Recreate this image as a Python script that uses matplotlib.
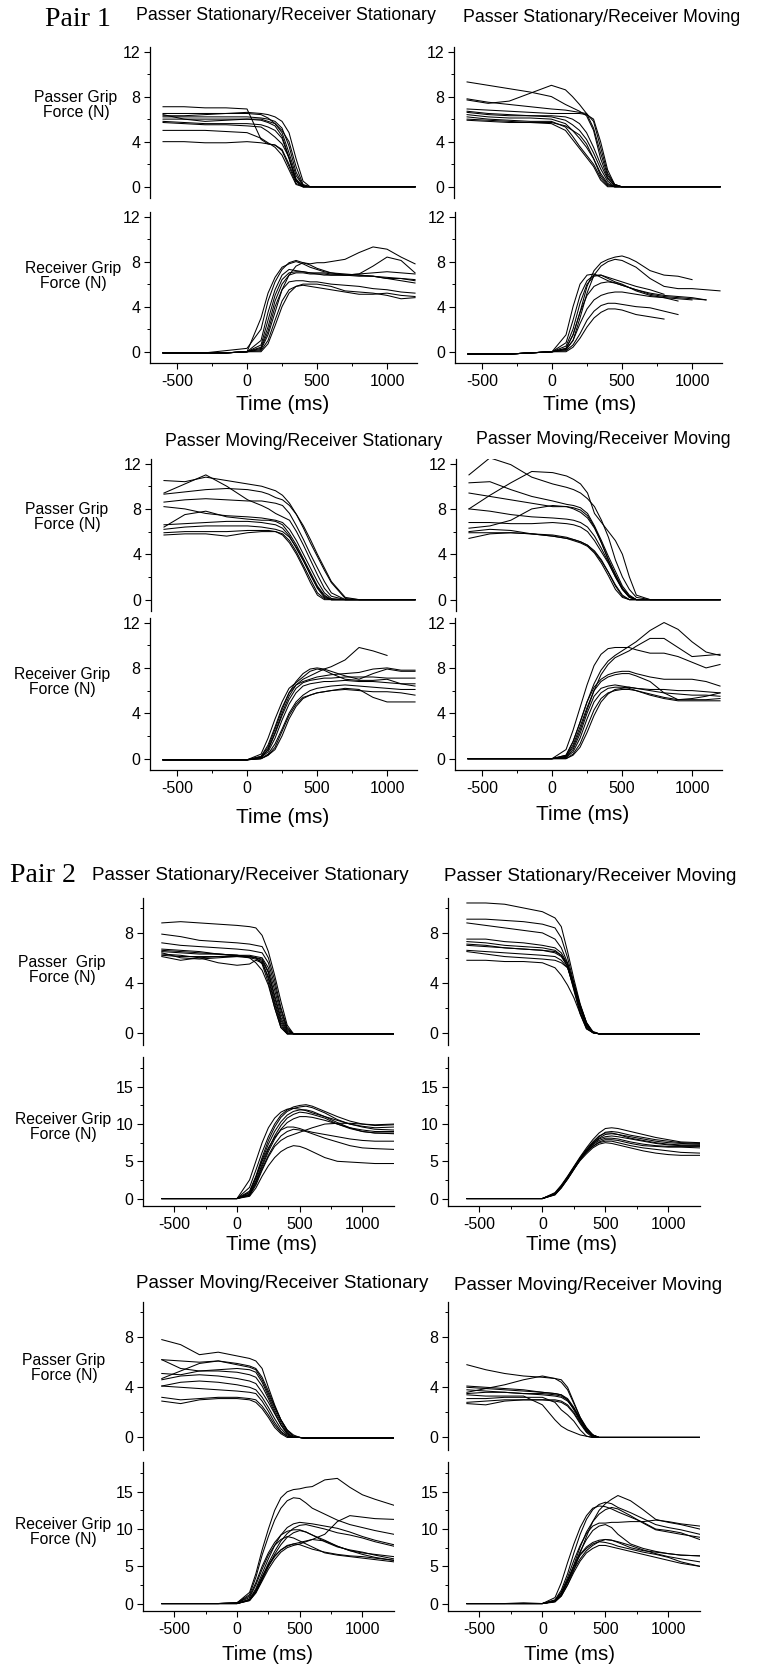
import numpy as np
import matplotlib
matplotlib.use("Agg")
import matplotlib.pyplot as plt

plt.rcParams['font.family'] = ['Liberation Sans', 'DejaVu Sans']
plt.rcParams['axes.unicode_minus'] = False

nan = np.nan

# sample times (ms) of the grip force traces
time_pair1 = [-600, -450, -300, -150, 0, 100, 150, 200, 250, 300, 350, 400, 450, 500,
              550, 600, 700, 800, 900, 1000, 1100, 1200]
time_pair2 = [-600, -450, -300, -150, 0, 100, 150, 200, 250, 300, 350, 400, 450, 500,
              550, 600, 700, 800, 900, 1000, 1100, 1250]

x_ticks = [-500, 0, 500, 1000]
x_tick_labels = ['-500', '0', '500', '1000']
y_ticks_pair1 = [0, 4, 8, 12]
y_ticks_pair2_passer = [0, 4, 8]
y_ticks_pair2_receiver = [0, 5, 10, 15]

conditions = ['Passer Stationary/Receiver Stationary', 'Passer Stationary/Receiver Moving',
              'Passer Moving/Receiver Stationary', 'Passer Moving/Receiver Moving']

# ---------------- Pair 1 ----------------
p1_ss_passer = [
    [7.1, 7.1, 7.0, 7.0, 6.9, 4.2, 3.8, 3.7, 3.3, 2.0, 0.5, 0.0, 0, 0, 0, 0, 0, 0, 0, 0, 0, 0],
    [6.5, 6.5, 6.5, 6.5, 6.5, 6.4, 6.1, 5.6, 4.8, 3.0, 1.0, 0.1, 0, 0, 0, 0, 0, 0, 0, 0, 0, 0],
    [6.4, 6.0, 5.8, 5.9, 6.0, 5.9, 5.7, 5.4, 4.5, 2.6, 0.6, 0.0, 0, 0, 0, 0, 0, 0, 0, 0, 0, 0],
    [6.2, 6.2, 6.2, 6.2, 6.2, 6.1, 6.0, 5.8, 5.2, 3.6, 1.3, 0.1, 0, 0, 0, 0, 0, 0, 0, 0, 0, 0],
    [5.8, 5.7, 5.6, 5.6, 5.6, 5.5, 5.3, 5.0, 4.3, 2.5, 0.5, 0.0, 0, 0, 0, 0, 0, 0, 0, 0, 0, 0],
    [5.7, 5.6, 5.5, 5.5, 5.4, 5.3, 4.9, 4.4, 3.8, 2.6, 0.7, 0.0, 0, 0, 0, 0, 0, 0, 0, 0, 0, 0],
    [5.0, 5.0, 5.0, 4.9, 4.8, 4.3, 3.9, 3.5, 2.8, 1.5, 0.2, 0.0, 0, 0, 0, 0, 0, 0, 0, 0, 0, 0],
    [4.0, 4.0, 3.9, 3.9, 4.0, 3.9, 3.8, 3.7, 3.2, 1.8, 0.3, 0.0, 0, 0, 0, 0, 0, 0, 0, 0, 0, 0],
    [6.3, 6.3, 6.4, 6.5, 6.6, 6.5, 6.4, 6.2, 5.8, 4.8, 2.5, 0.5, 0, 0, 0, 0, 0, 0, 0, 0, 0, 0],
    [6.0, 6.0, 6.0, 6.0, 6.0, 6.0, 5.8, 5.6, 5.0, 4.0, 1.8, 0.2, 0, 0, 0, 0, 0, 0, 0, 0, 0, 0],
]
p1_ss_receiver = [
    [-0.1, -0.1, -0.1, -0.1, 0.0, 3.0, 5.2, 6.6, 7.5, 7.8, 8.0, 7.8, 7.5, 7.3, 7.1, 7.0, 6.8, 6.8, 6.7, 6.5, 6.3, 6.1],
    [-0.1, -0.1, -0.1, 0.1, 0.3, 2.0, 4.5, 6.2, 7.3, 7.9, 8.1, 7.9, 7.8, 7.9, 7.9, 8.0, 8.2, 8.8, 9.3, 9.1, 8.4, 7.8],
    [-0.1, -0.1, -0.1, -0.1, 0.0, 1.0, 3.5, 5.5, 6.8, 7.3, 7.2, 7.1, 7.0, 7.0, 7.0, 6.9, 6.8, 6.9, 7.6, 8.4, 8.1, 7.0],
    [-0.1, -0.1, -0.1, -0.1, 0.0, 0.6, 2.8, 5.0, 6.4, 7.0, 7.1, 7.1, 7.0, 6.9, 6.8, 6.8, 6.8, 6.7, 6.7, 6.6, 6.5, 6.3],
    [-0.1, -0.1, -0.1, -0.1, 0.0, 0.4, 2.2, 4.5, 6.0, 6.8, 7.0, 7.0, 6.9, 6.9, 6.9, 6.8, 6.8, 6.9, 7.0, 7.1, 7.0, 6.9],
    [-0.1, -0.1, -0.1, -0.1, 0.0, 0.3, 1.8, 4.0, 5.5, 6.2, 6.3, 6.3, 6.2, 6.2, 6.1, 6.0, 5.9, 5.8, 5.6, 5.5, 5.3, 5.2],
    [-0.1, -0.1, -0.1, -0.1, 0.0, 0.1, 1.0, 2.8, 4.5, 5.5, 5.8, 5.9, 5.8, 5.7, 5.6, 5.5, 5.3, 5.1, 5.1, 5.2, 5.0, 4.9],
    [-0.1, -0.1, -0.1, -0.1, 0.0, 0.0, 0.7, 2.3, 4.0, 5.2, 5.8, 6.0, 6.0, 6.0, 5.9, 5.8, 5.4, 5.3, 5.2, 5.0, 4.7, 4.8],
    [-0.1, -0.1, -0.1, -0.1, 0.0, 0.2, 1.5, 3.5, 5.5, 6.8, 7.6, 7.9, 7.7, 7.4, 7.2, 7.0, 6.9, 6.8, 6.7, 6.5, 6.5, 6.4],
]
p1_sm_passer = [
    [9.3, 9.0, 8.7, 8.4, 8.0, 7.3, 7.0, 6.7, 6.3, 5.0, 2.5, 0.8, 0.1, 0, 0, 0, 0, 0, 0, 0, 0, 0],
    [7.7, 7.4, 7.6, 8.3, 9.0, 8.6, 8.0, 7.3, 6.5, 5.2, 3.0, 1.0, 0.2, 0, 0, 0, 0, 0, 0, 0, 0, 0],
    [7.8, 7.5, 7.3, 7.1, 6.9, 6.8, 6.7, 6.6, 6.5, 5.8, 3.5, 1.2, 0.2, 0, 0, 0, 0, 0, 0, 0, 0, 0],
    [6.9, 6.8, 6.7, 6.6, 6.5, 6.5, 6.5, 6.5, 6.4, 6.0, 4.0, 1.5, 0.2, 0, 0, 0, 0, 0, 0, 0, 0, 0],
    [6.7, 6.5, 6.4, 6.3, 6.3, 6.2, 6.0, 5.6, 4.8, 3.5, 2.0, 0.7, 0.1, 0, 0, 0, 0, 0, 0, 0, 0, 0],
    [6.6, 6.4, 6.3, 6.3, 6.2, 5.9, 5.5, 5.0, 4.2, 3.0, 1.6, 0.5, 0.0, 0, 0, 0, 0, 0, 0, 0, 0, 0],
    [6.4, 6.2, 6.1, 6.1, 6.0, 5.6, 5.0, 4.3, 3.5, 2.5, 1.2, 0.3, 0.0, 0, 0, 0, 0, 0, 0, 0, 0, 0],
    [6.2, 6.0, 5.9, 5.8, 5.8, 5.3, 4.5, 3.6, 2.8, 2.0, 0.8, 0.1, 0.0, 0, 0, 0, 0, 0, 0, 0, 0, 0],
    [6.0, 5.9, 5.8, 5.7, 5.6, 5.0, 4.2, 3.4, 2.6, 1.8, 0.6, 0.0, 0.0, 0, 0, 0, 0, 0, 0, 0, 0, 0],
    [5.9, 5.8, 5.7, 5.7, 5.7, 5.4, 5.0, 4.6, 3.8, 2.5, 1.0, 0.2, 0.0, 0, 0, 0, 0, 0, 0, 0, 0, 0],
]
p1_sm_receiver = [
    [-0.2, -0.2, -0.2, -0.1, 0.0, 1.5, 4.0, 6.0, 6.8, 6.9, 6.6, 6.3, 6.1, 5.9, 5.7, 5.5, 5.2, 5.0, 4.9, 4.8, 4.6, nan],
    [-0.2, -0.2, -0.2, -0.1, 0.0, 0.3, 1.5, 3.5, 5.8, 7.2, 7.9, 8.2, 8.4, 8.5, 8.3, 8.0, 7.2, 6.8, 6.7, 6.4, nan, nan],
    [-0.2, -0.2, -0.2, -0.1, 0.0, 0.2, 1.0, 3.0, 5.2, 6.8, 7.6, 8.0, 8.2, 8.1, 7.8, 7.5, 6.5, 5.8, 5.6, 5.6, 5.5, 5.4],
    [-0.2, -0.2, -0.2, -0.1, 0.0, 0.8, 2.8, 5.0, 6.3, 6.8, 6.8, 6.5, 6.2, 6.0, 5.7, 5.4, 5.0, 4.8, 4.5, nan, nan, nan],
    [-0.2, -0.2, -0.2, -0.1, 0.0, 0.3, 1.5, 3.5, 5.0, 5.8, 6.1, 6.2, 6.1, 5.9, 5.7, 5.5, 5.1, 4.9, 4.8, 4.7, 4.6, nan],
    [-0.2, -0.2, -0.2, -0.1, 0.0, 0.2, 1.0, 2.5, 3.8, 4.6, 5.0, 5.2, 5.3, 5.3, 5.2, 5.1, 4.9, 4.8, 4.7, 4.6, nan, nan],
    [-0.2, -0.2, -0.2, -0.1, 0.0, 0.1, 0.6, 1.6, 2.8, 3.6, 4.1, 4.3, 4.3, 4.2, 4.1, 4.0, 3.9, 3.6, 3.3, nan, nan, nan],
    [-0.2, -0.2, -0.2, -0.1, 0.0, 0.0, 0.4, 1.2, 2.2, 3.0, 3.5, 3.8, 3.8, 3.7, 3.5, 3.3, 3.1, 2.9, nan, nan, nan, nan],
    [-0.2, -0.2, -0.2, -0.1, 0.0, 0.5, 2.0, 4.3, 6.0, 6.7, 6.8, 6.6, 6.4, 6.2, 6.0, 5.8, 5.5, 5.1, nan, nan, nan, nan],
]
p1_ms_passer = [
    [10.5, 10.4, 10.8, 10.5, 10.2, 10.0, 9.8, 9.6, 9.2, 8.5, 7.5, 6.3, 5.0, 3.8, 2.6, 1.5, 0.1, 0, 0, 0, 0, 0],
    [9.4, 10.2, 11.0, 10.0, 8.8, 8.3, 8.0, 7.6, 7.3, 7.0, 6.0, 4.8, 3.5, 2.2, 1.0, 0.3, 0, 0, 0, 0, 0, 0],
    [9.3, 9.5, 9.7, 9.8, 9.7, 9.5, 9.3, 9.0, 8.8, 8.3, 7.5, 6.5, 5.3, 4.0, 2.8, 1.6, 0.2, 0, 0, 0, 0, 0],
    [8.6, 8.8, 8.9, 8.8, 8.7, 8.7, 8.6, 8.5, 8.3, 7.6, 6.5, 5.3, 4.0, 2.8, 1.6, 0.6, 0, 0, 0, 0, 0, 0],
    [8.2, 8.0, 7.6, 7.4, 7.3, 7.2, 7.1, 7.0, 6.8, 6.2, 5.2, 4.0, 2.8, 1.6, 0.6, 0.1, 0, 0, 0, 0, 0, 0],
    [6.4, 7.5, 7.8, 7.3, 7.1, 7.0, 7.0, 6.9, 6.6, 5.8, 4.8, 3.6, 2.4, 1.2, 0.4, 0, 0, 0, 0, 0, 0, 0],
    [6.6, 6.7, 6.8, 6.9, 6.9, 6.8, 6.7, 6.6, 6.3, 5.6, 4.5, 3.4, 2.2, 1.1, 0.3, 0, 0, 0, 0, 0, 0, 0],
    [6.2, 6.4, 6.5, 6.5, 6.5, 6.4, 6.3, 6.2, 6.0, 5.5, 4.6, 3.5, 2.2, 1.0, 0.2, 0, 0, 0, 0, 0, 0, 0],
    [5.9, 6.0, 6.0, 6.0, 6.1, 6.1, 6.1, 6.0, 5.8, 5.2, 4.2, 3.0, 1.8, 0.6, 0.1, 0, 0, 0, 0, 0, 0, 0],
    [5.7, 5.8, 5.8, 5.6, 5.9, 6.0, 6.0, 6.0, 5.7, 5.0, 4.0, 2.8, 1.5, 0.4, 0, 0, 0, 0, 0, 0, 0, 0],
]
p1_ms_receiver = [
    [-0.1, -0.1, -0.1, -0.1, -0.1, 0.1, 0.8, 2.3, 4.0, 5.5, 6.5, 7.0, 7.3, 7.6, 7.9, 8.1, 8.7, 9.8, 9.5, 9.1, nan, nan],
    [-0.1, -0.1, -0.1, -0.1, -0.1, 0.4, 1.8, 3.5, 5.0, 6.2, 6.7, 7.2, 7.7, 7.9, 7.8, 7.5, 7.0, 6.9, 6.9, 7.0, 6.6, 6.6],
    [-0.1, -0.1, -0.1, -0.1, -0.1, 0.2, 1.2, 2.8, 4.5, 5.8, 6.5, 6.8, 7.0, 7.2, 7.3, 7.4, 7.5, 7.6, 7.9, 8.0, 7.8, 7.8],
    [-0.1, -0.1, -0.1, -0.1, -0.1, 0.1, 0.8, 2.2, 3.8, 5.2, 6.2, 6.7, 6.9, 7.0, 7.1, 7.1, 7.2, 7.2, 7.2, 7.1, 7.1, 7.1],
    [-0.1, -0.1, -0.1, -0.1, -0.1, 0.1, 0.6, 1.8, 3.4, 4.8, 5.8, 6.4, 6.6, 6.7, 6.8, 6.8, 6.9, 6.8, 6.8, 6.7, 6.6, 6.4],
    [-0.1, -0.1, -0.1, -0.1, -0.1, 0.0, 0.4, 1.3, 2.6, 4.0, 5.0, 5.6, 6.0, 6.2, 6.3, 6.4, 6.5, 6.4, 6.3, 6.2, 6.1, 6.1],
    [-0.1, -0.1, -0.1, -0.1, -0.1, 0.0, 0.3, 0.8, 2.0, 3.5, 4.6, 5.3, 5.6, 5.8, 5.9, 6.0, 6.2, 6.1, 5.4, 5.0, 5.0, 5.0],
    [-0.1, -0.1, -0.1, -0.1, -0.1, 0.0, 0.3, 1.0, 2.4, 3.8, 4.8, 5.4, 5.6, 5.8, 5.9, 6.0, 6.1, 6.0, 5.9, 5.9, 5.8, 5.6],
    [-0.1, -0.1, -0.1, -0.1, -0.1, 0.2, 1.0, 2.6, 4.3, 5.8, 6.8, 7.5, 7.9, 8.0, 7.9, 7.7, 7.3, 7.0, 7.5, 7.9, 7.7, 7.7],
]
p1_mm_passer = [
    [11.0, 12.5, 11.9, 10.8, 10.2, 9.9, 9.7, 9.4, 8.9, 8.2, 7.0, 5.5, 3.5, 2.0, 0.9, 0.2, 0, 0, 0, 0, 0, 0],
    [8.0, 9.2, 10.3, 11.3, 11.2, 10.9, 10.6, 10.2, 9.4, 7.6, 6.8, 6.0, 5.2, 4.0, 2.0, 0.4, 0, 0, 0, 0, 0, 0],
    [10.3, 10.4, 9.7, 9.1, 8.7, 8.4, 8.3, 8.1, 7.6, 6.5, 5.2, 3.8, 2.5, 1.2, 0.4, 0, 0, 0, 0, 0, 0, 0],
    [9.4, 9.1, 8.8, 8.5, 8.2, 8.2, 8.1, 7.9, 7.4, 6.4, 5.0, 3.5, 2.2, 1.0, 0.3, 0, 0, 0, 0, 0, 0, 0],
    [8.0, 7.8, 7.5, 7.3, 7.2, 7.1, 7.0, 6.8, 6.4, 5.6, 4.5, 3.3, 2.0, 0.9, 0.2, 0, 0, 0, 0, 0, 0, 0],
    [6.3, 6.5, 7.0, 8.0, 8.3, 8.2, 8.0, 7.7, 7.2, 6.3, 5.0, 3.5, 2.2, 1.0, 0.3, 0, 0, 0, 0, 0, 0, 0],
    [6.8, 6.8, 6.7, 6.7, 6.8, 6.7, 6.6, 6.4, 6.0, 5.2, 4.2, 3.2, 2.0, 0.9, 0.2, 0, 0, 0, 0, 0, 0, 0],
    [6.0, 6.2, 6.1, 5.8, 5.6, 5.4, 5.3, 5.1, 4.8, 4.2, 3.4, 2.4, 1.3, 0.4, 0, 0, 0, 0, 0, 0, 0, 0],
    [5.9, 5.9, 5.9, 5.8, 5.7, 5.5, 5.3, 5.1, 4.8, 4.3, 3.5, 2.4, 1.2, 0.3, 0, 0, 0, 0, 0, 0, 0, 0],
    [5.4, 5.8, 5.9, 5.8, 5.6, 5.4, 5.2, 5.0, 4.7, 4.1, 3.2, 2.1, 0.9, 0.2, 0, 0, 0, 0, 0, 0, 0, 0],
]
p1_mm_receiver = [
    [0, 0, 0, 0, 0, 0.3, 1.5, 3.2, 5.0, 6.6, 7.8, 8.6, 9.1, 9.5, 9.9, 10.3, 11.3, 12.0, 11.4, 10.3, 9.4, 9.1],
    [0, 0, 0, 0, 0, 0.2, 1.0, 2.5, 4.3, 6.0, 7.4, 8.3, 8.9, 9.2, 9.5, 9.9, 10.6, 10.6, 9.8, 9.0, 9.1, 9.2],
    [0, 0, 0, 0, 0, 0.8, 2.5, 4.5, 6.5, 8.2, 9.2, 9.7, 9.8, 9.8, 9.8, 9.6, 9.3, 9.3, 9.0, 8.5, 8.0, 8.3],
    [0, 0, 0, 0, 0, 0.3, 1.5, 3.2, 5.0, 6.3, 7.0, 7.4, 7.6, 7.7, 7.7, 7.5, 7.2, 7.0, 7.0, 7.0, 6.8, 6.4],
    [0, 0, 0, 0, 0, 0.2, 1.2, 2.8, 4.5, 6.0, 6.8, 7.2, 7.4, 7.5, 7.5, 7.3, 6.8, 5.8, 5.2, 5.3, 5.5, 5.8],
    [0, 0, 0, 0, 0, 0.1, 0.8, 2.2, 4.0, 5.5, 6.2, 6.4, 6.5, 6.4, 6.3, 6.2, 6.1, 6.1, 6.0, 6.0, 5.9, 5.8],
    [0, 0, 0, 0, 0, 0.1, 0.6, 1.8, 3.5, 5.0, 5.8, 6.2, 6.3, 6.3, 6.2, 6.0, 5.7, 5.4, 5.2, 5.2, 5.2, 5.3],
    [0, 0, 0, 0, 0, 0.0, 0.4, 1.3, 2.8, 4.3, 5.3, 5.8, 6.0, 6.1, 6.1, 6.0, 5.6, 5.3, 5.1, 5.1, 5.1, 5.1],
    [0, 0, 0, 0, 0, 0.0, 0.3, 1.0, 2.3, 3.8, 5.0, 5.7, 6.1, 6.2, 6.3, 6.2, 6.0, 5.8, 5.7, 5.6, 5.6, 5.5],
]

# ---------------- Pair 2 ----------------
p2_ss_passer = [
    [8.8, 8.9, 8.8, 8.7, 8.6, 8.5, 8.4, 7.8, 6.5, 4.6, 2.5, 0.6, -0.1, -0.1, -0.1, -0.1, -0.1, -0.1, -0.1, -0.1, -0.1, -0.1],
    [7.9, 7.7, 7.4, 7.3, 7.2, 7.1, 7.0, 6.9, 6.0, 4.2, 2.0, 0.4, -0.1, -0.1, -0.1, -0.1, -0.1, -0.1, -0.1, -0.1, -0.1, -0.1],
    [7.2, 7.0, 6.9, 6.8, 6.7, 6.6, 6.5, 6.4, 5.6, 3.8, 1.8, 0.3, -0.1, -0.1, -0.1, -0.1, -0.1, -0.1, -0.1, -0.1, -0.1, -0.1],
    [6.7, 6.6, 6.5, 6.3, 6.2, 6.1, 6.0, 5.9, 4.9, 3.0, 1.2, 0.1, -0.1, -0.1, -0.1, -0.1, -0.1, -0.1, -0.1, -0.1, -0.1, -0.1],
    [6.6, 6.5, 6.4, 6.3, 6.2, 6.2, 6.1, 6.0, 5.2, 3.4, 1.5, 0.2, -0.1, -0.1, -0.1, -0.1, -0.1, -0.1, -0.1, -0.1, -0.1, -0.1],
    [6.4, 6.0, 5.9, 6.0, 6.1, 6.1, 6.0, 5.8, 4.8, 2.8, 1.0, 0.0, -0.1, -0.1, -0.1, -0.1, -0.1, -0.1, -0.1, -0.1, -0.1, -0.1],
    [6.3, 6.2, 6.0, 5.6, 5.4, 5.5, 5.8, 5.6, 4.5, 2.5, 0.8, -0.1, -0.1, -0.1, -0.1, -0.1, -0.1, -0.1, -0.1, -0.1, -0.1, -0.1],
    [6.2, 6.1, 6.1, 6.1, 6.1, 6.0, 5.9, 5.7, 4.3, 2.3, 0.6, -0.1, -0.1, -0.1, -0.1, -0.1, -0.1, -0.1, -0.1, -0.1, -0.1, -0.1],
    [6.1, 5.8, 6.0, 6.1, 6.2, 6.1, 6.0, 5.5, 4.0, 2.0, 0.4, -0.1, -0.1, -0.1, -0.1, -0.1, -0.1, -0.1, -0.1, -0.1, -0.1, -0.1],
    [6.5, 6.4, 6.3, 6.3, 6.2, 6.0, 5.6, 5.0, 3.8, 2.0, 0.4, -0.1, -0.1, -0.1, -0.1, -0.1, -0.1, -0.1, -0.1, -0.1, -0.1, -0.1],
]
p2_ss_receiver = [
    [0, 0, 0, 0, 0, 2.5, 5.0, 7.5, 9.5, 10.8, 11.6, 12.0, 12.1, 12.0, 11.8, 11.5, 11.0, 10.5, 10.0, 9.7, 9.5, 9.6],
    [0, 0, 0, 0, 0, 1.5, 3.8, 6.2, 8.3, 10.0, 11.2, 11.9, 12.3, 12.5, 12.6, 12.4, 11.7, 11.0, 10.4, 10.0, 9.8, 9.9],
    [0, 0, 0, 0, 0, 1.0, 3.0, 5.5, 7.8, 9.6, 10.9, 11.7, 12.1, 12.3, 12.4, 12.2, 11.5, 10.6, 10.0, 9.6, 9.3, 9.2],
    [0, 0, 0, 0, 0, 0.8, 2.8, 5.2, 7.3, 9.0, 10.3, 11.2, 11.7, 11.9, 11.9, 11.7, 11.0, 10.2, 9.5, 9.0, 8.8, 8.7],
    [0, 0, 0, 0, 0, 0.6, 2.4, 4.6, 6.6, 8.4, 9.8, 10.8, 11.3, 11.6, 11.5, 11.3, 10.8, 10.0, 9.4, 9.0, 8.8, 8.8],
    [0, 0, 0, 0, 0, 0.5, 2.2, 4.3, 6.3, 8.0, 9.3, 10.2, 10.7, 11.0, 11.0, 10.9, 10.5, 10.0, 9.5, 9.2, 9.0, 9.0],
    [0, 0, 0, 0, 0, 0.8, 2.8, 5.0, 6.8, 8.2, 9.2, 9.6, 9.6, 9.4, 9.1, 8.9, 8.6, 8.3, 8.0, 7.8, 7.7, 7.7],
    [0, 0, 0, 0, 0, 0.4, 1.8, 3.8, 5.6, 7.0, 7.8, 8.3, 8.6, 8.9, 9.2, 9.5, 10.0, 10.1, 10.1, 10.0, 9.9, 10.0],
    [0, 0, 0, 0, 0, 0.5, 2.0, 4.0, 5.8, 7.3, 8.4, 9.0, 9.3, 9.2, 9.0, 8.7, 8.1, 7.6, 7.1, 6.8, 6.7, 6.6],
    [0, 0, 0, 0, 0, 0.3, 1.4, 3.0, 4.4, 5.5, 6.3, 6.8, 7.1, 7.0, 6.7, 6.3, 5.5, 5.0, 4.9, 4.8, 4.7, 4.7],
]
p2_sm_passer = [
    [10.4, 10.4, 10.3, 10.0, 9.7, 9.2, 8.5, 6.5, 4.3, 2.3, 0.8, 0.1, -0.1, -0.1, -0.1, -0.1, -0.1, -0.1, -0.1, -0.1, -0.1, -0.1],
    [9.1, 9.1, 9.0, 8.9, 8.7, 8.4, 7.6, 6.0, 4.0, 2.2, 0.8, 0.0, -0.1, -0.1, -0.1, -0.1, -0.1, -0.1, -0.1, -0.1, -0.1, -0.1],
    [8.8, 8.6, 8.4, 8.2, 8.0, 7.5, 6.8, 5.6, 3.8, 2.0, 0.6, 0.0, -0.1, -0.1, -0.1, -0.1, -0.1, -0.1, -0.1, -0.1, -0.1, -0.1],
    [7.5, 7.5, 7.3, 7.2, 7.0, 6.8, 6.4, 5.5, 3.8, 2.0, 0.6, 0.0, -0.1, -0.1, -0.1, -0.1, -0.1, -0.1, -0.1, -0.1, -0.1, -0.1],
    [7.3, 7.2, 7.0, 6.9, 6.8, 6.6, 6.2, 5.3, 3.5, 1.6, 0.4, 0.0, -0.1, -0.1, -0.1, -0.1, -0.1, -0.1, -0.1, -0.1, -0.1, -0.1],
    [7.1, 7.0, 6.8, 6.7, 6.6, 6.4, 6.1, 5.3, 3.4, 1.5, 0.3, 0.0, -0.1, -0.1, -0.1, -0.1, -0.1, -0.1, -0.1, -0.1, -0.1, -0.1],
    [7.0, 6.9, 6.8, 6.7, 6.6, 6.5, 6.2, 5.5, 3.9, 2.1, 0.7, 0.0, -0.1, -0.1, -0.1, -0.1, -0.1, -0.1, -0.1, -0.1, -0.1, -0.1],
    [6.6, 6.5, 6.4, 6.3, 6.2, 6.1, 5.8, 5.2, 3.6, 1.8, 0.5, 0.0, -0.1, -0.1, -0.1, -0.1, -0.1, -0.1, -0.1, -0.1, -0.1, -0.1],
    [6.5, 6.3, 6.1, 6.0, 5.9, 5.8, 5.6, 5.2, 3.8, 2.2, 0.8, 0.0, -0.1, -0.1, -0.1, -0.1, -0.1, -0.1, -0.1, -0.1, -0.1, -0.1],
    [5.8, 5.8, 5.7, 5.7, 5.6, 5.2, 4.6, 3.8, 2.8, 1.5, 0.3, 0.0, -0.1, -0.1, -0.1, -0.1, -0.1, -0.1, -0.1, -0.1, -0.1, -0.1],
]
p2_sm_receiver = [
    [0, 0, 0, 0, 0, 0.8, 1.8, 3.0, 4.3, 5.6, 6.8, 7.9, 8.8, 9.4, 9.5, 9.4, 9.0, 8.6, 8.2, 7.9, 7.6, 7.5],
    [0, 0, 0, 0, 0, 0.7, 1.6, 2.8, 4.1, 5.4, 6.5, 7.5, 8.3, 8.9, 9.0, 8.9, 8.5, 8.2, 7.9, 7.7, 7.5, 7.4],
    [0, 0, 0, 0, 0, 0.6, 1.5, 2.6, 3.9, 5.2, 6.4, 7.4, 8.1, 8.6, 8.7, 8.6, 8.3, 8.0, 7.7, 7.5, 7.4, 7.3],
    [0, 0, 0, 0, 0, 0.6, 1.5, 2.7, 4.0, 5.3, 6.4, 7.3, 8.0, 8.3, 8.4, 8.3, 8.0, 7.7, 7.4, 7.2, 7.1, 7.1],
    [0, 0, 0, 0, 0, 0.7, 1.7, 2.9, 4.2, 5.4, 6.4, 7.2, 7.8, 8.1, 8.1, 8.0, 7.6, 7.3, 7.1, 7.0, 7.0, 7.0],
    [0, 0, 0, 0, 0, 0.5, 1.4, 2.6, 3.9, 5.2, 6.2, 7.0, 7.6, 7.9, 7.9, 7.8, 7.4, 7.1, 7.0, 6.9, 6.9, 6.8],
    [0, 0, 0, 0, 0, 0.6, 1.6, 2.8, 4.1, 5.3, 6.3, 7.0, 7.5, 7.7, 7.7, 7.5, 7.1, 6.8, 6.6, 6.4, 6.2, 6.1],
    [0, 0, 0, 0, 0, 0.5, 1.5, 2.7, 4.0, 5.1, 6.0, 6.8, 7.3, 7.5, 7.4, 7.2, 6.8, 6.4, 6.1, 5.9, 5.8, 5.8],
    [0, 0, 0, 0, 0, 0.6, 1.6, 2.9, 4.2, 5.5, 6.6, 7.6, 8.4, 8.8, 8.8, 8.6, 8.1, 7.8, 7.5, 7.3, 7.2, 7.2],
]
p2_ms_passer = [
    [7.8, 7.4, 6.6, 6.8, 6.5, 6.3, 6.1, 5.5, 4.0, 2.6, 1.4, 0.6, 0.2, 0.0, -0.05, -0.05, -0.05, -0.05, -0.05, -0.05, -0.05, -0.05],
    [6.2, 6.1, 6.0, 6.1, 5.8, 5.6, 5.4, 4.6, 3.5, 2.4, 1.4, 0.6, 0.1, 0.0, -0.05, -0.05, -0.05, -0.05, -0.05, -0.05, -0.05, -0.05],
    [6.2, 5.5, 5.3, 5.4, 5.5, 5.4, 5.2, 4.4, 3.3, 2.2, 1.2, 0.4, 0.0, 0.0, -0.05, -0.05, -0.05, -0.05, -0.05, -0.05, -0.05, -0.05],
    [5.1, 5.0, 5.3, 5.3, 5.2, 5.0, 4.8, 4.1, 3.1, 2.0, 1.0, 0.3, 0.0, 0.0, -0.05, -0.05, -0.05, -0.05, -0.05, -0.05, -0.05, -0.05],
    [4.7, 5.3, 5.9, 6.1, 5.9, 5.7, 5.5, 4.8, 3.7, 2.5, 1.4, 0.5, 0.1, 0.0, -0.05, -0.05, -0.05, -0.05, -0.05, -0.05, -0.05, -0.05],
    [4.6, 4.9, 5.0, 4.9, 4.7, 4.5, 4.3, 3.6, 2.8, 1.9, 1.0, 0.3, 0.0, 0.0, -0.05, -0.05, -0.05, -0.05, -0.05, -0.05, -0.05, -0.05],
    [4.1, 4.4, 4.5, 4.4, 4.2, 4.0, 3.8, 3.2, 2.4, 1.5, 0.7, 0.2, 0.0, 0.0, -0.05, -0.05, -0.05, -0.05, -0.05, -0.05, -0.05, -0.05],
    [4.1, 4.0, 3.9, 3.8, 3.7, 3.6, 3.5, 2.9, 2.1, 1.2, 0.5, 0.1, 0.0, 0.0, -0.05, -0.05, -0.05, -0.05, -0.05, -0.05, -0.05, -0.05],
    [3.2, 3.0, 3.1, 3.2, 3.2, 3.1, 3.0, 2.5, 1.8, 1.0, 0.4, 0.1, 0.0, 0.0, -0.05, -0.05, -0.05, -0.05, -0.05, -0.05, -0.05, -0.05],
    [2.9, 2.7, 3.0, 3.1, 3.1, 3.0, 2.8, 2.3, 1.6, 0.8, 0.3, 0.0, 0.0, 0.0, -0.05, -0.05, -0.05, -0.05, -0.05, -0.05, -0.05, -0.05],
]
p2_ms_receiver = [
    [0, 0, 0, 0, 0.1, 1.5, 4.0, 7.2, 10.0, 12.5, 14.2, 15.0, 15.3, 15.4, 15.6, 15.7, 16.6, 16.8, 15.6, 14.6, 14.0, 13.2],
    [0, 0, 0, 0, 0.1, 1.2, 3.5, 6.5, 9.0, 11.2, 12.8, 13.8, 14.2, 14.1, 13.5, 12.8, 12.0, 11.2, 10.6, 10.2, 9.8, 9.3],
    [0, 0, 0, 0, 0, 0.5, 1.8, 3.6, 5.2, 6.4, 7.2, 7.7, 8.0, 8.2, 8.4, 8.6, 9.3, 11.0, 11.8, 11.6, 11.4, 11.3],
    [0, 0, 0, 0, 0, 0.6, 2.0, 4.0, 6.0, 7.8, 9.2, 10.2, 10.7, 10.9, 10.8, 10.7, 10.4, 10.1, 9.6, 9.0, 8.5, 7.9],
    [0, 0, 0, 0, 0, 0.5, 1.7, 3.5, 5.4, 7.0, 8.4, 9.4, 10.1, 10.5, 10.6, 10.4, 10.0, 9.5, 9.2, 8.8, 8.3, 7.7],
    [0, 0, 0, 0, 0.1, 1.0, 2.8, 5.0, 6.8, 8.2, 9.2, 9.7, 9.9, 9.9, 9.6, 9.2, 8.5, 7.7, 7.1, 6.8, 6.6, 6.3],
    [0, 0, 0, 0, 0, 0.4, 1.5, 3.2, 5.0, 6.6, 7.9, 8.9, 9.5, 9.8, 9.6, 9.2, 8.3, 7.6, 7.2, 6.9, 6.5, 6.0],
    [0, 0, 0, 0, 0.1, 0.8, 2.5, 4.6, 6.5, 7.8, 8.6, 9.0, 8.8, 8.4, 8.0, 7.6, 6.8, 6.5, 6.3, 6.1, 5.9, 5.6],
    [0, 0, 0, 0, 0, 0.4, 1.4, 3.0, 4.6, 5.9, 6.9, 7.5, 7.8, 8.0, 8.3, 8.6, 8.4, 7.7, 7.1, 6.6, 6.2, 5.8],
    [0, 0, 0, 0, 0, 0.5, 1.6, 3.3, 5.0, 6.3, 7.2, 7.8, 8.0, 7.9, 7.6, 7.3, 6.9, 6.6, 6.4, 6.3, 6.1, 5.8],
]
p2_mm_passer = [
    [5.8, 5.4, 5.1, 4.9, 4.8, 4.7, 4.6, 4.0, 2.8, 1.6, 0.7, 0.2, 0, 0, 0, 0, 0, 0, 0, 0, 0, 0],
    [3.6, 3.9, 4.2, 4.6, 4.9, 4.7, 4.4, 3.8, 2.7, 1.6, 0.8, 0.2, 0, 0, 0, 0, 0, 0, 0, 0, 0, 0],
    [4.1, 4.0, 3.9, 3.8, 3.6, 3.5, 3.4, 3.0, 2.3, 1.4, 0.6, 0.1, 0, 0, 0, 0, 0, 0, 0, 0, 0, 0],
    [4.0, 3.9, 3.8, 3.7, 3.6, 3.5, 3.4, 3.1, 2.4, 1.5, 0.7, 0.2, 0, 0, 0, 0, 0, 0, 0, 0, 0, 0],
    [3.8, 3.7, 3.6, 3.5, 3.4, 3.3, 3.2, 2.9, 2.3, 1.5, 0.7, 0.2, 0, 0, 0, 0, 0, 0, 0, 0, 0, 0],
    [3.5, 3.6, 3.6, 3.5, 3.5, 3.4, 3.3, 3.0, 2.2, 1.3, 0.5, 0.1, 0, 0, 0, 0, 0, 0, 0, 0, 0, 0],
    [3.4, 3.3, 3.3, 3.3, 2.6, 1.4, 0.9, 0.6, 0.4, 0.2, 0.1, 0.0, 0, 0, 0, 0, 0, 0, 0, 0, 0, 0],
    [3.1, 3.1, 3.2, 3.2, 3.2, 2.8, 2.2, 1.8, 1.3, 0.6, 0.1, 0.0, 0, 0, 0, 0, 0, 0, 0, 0, 0, 0],
    [2.8, 2.9, 3.0, 3.0, 3.0, 3.0, 2.9, 2.6, 2.0, 1.2, 0.5, 0.1, 0, 0, 0, 0, 0, 0, 0, 0, 0, 0],
    [2.7, 2.6, 2.9, 3.0, 3.0, 2.9, 2.8, 2.5, 1.9, 1.1, 0.4, 0.0, 0, 0, 0, 0, 0, 0, 0, 0, 0, 0],
]
p2_mm_receiver = [
    [0, 0, 0, 0, 0, 0.3, 1.0, 2.5, 4.5, 6.8, 9.0, 11.0, 12.5, 13.4, 14.0, 14.5, 13.8, 12.6, 11.3, 10.9, 10.6, 10.0],
    [0, 0, 0, 0, 0, 0.5, 1.8, 4.0, 6.8, 9.3, 11.3, 12.6, 13.3, 13.6, 13.4, 12.9, 12.2, 11.4, 10.6, 10.2, 9.9, 9.3],
    [0, 0, 0, 0.1, 0, 0.8, 2.8, 5.5, 8.0, 10.2, 11.8, 12.8, 13.1, 13.0, 12.7, 12.3, 11.6, 10.9, 10.0, 9.8, 9.5, 8.6],
    [0, 0, 0, 0, 0, 0.4, 1.5, 3.5, 5.8, 7.8, 9.4, 10.4, 10.8, 10.8, 10.9, 10.9, 11.0, 11.0, 11.2, 11.0, 10.7, 10.4],
    [0, 0, 0, 0, 0, 0.3, 1.2, 3.0, 5.0, 7.0, 8.6, 9.8, 10.4, 10.6, 10.2, 9.3, 8.0, 7.4, 7.0, 6.7, 6.5, 6.4],
    [0, 0, 0, 0, 0, 0.3, 1.2, 2.9, 4.6, 6.0, 7.1, 7.8, 8.3, 8.6, 8.5, 8.3, 7.8, 7.2, 6.7, 6.3, 6.0, 5.6],
    [0, 0, 0, 0, 0, 0.4, 1.5, 3.2, 5.0, 6.5, 7.4, 8.0, 8.3, 8.2, 8.0, 7.7, 7.3, 6.9, 6.6, 6.2, 5.6, 5.0],
    [0, 0, 0, 0, 0, 0.2, 1.0, 2.5, 4.2, 5.7, 6.8, 7.4, 7.8, 7.8, 7.6, 7.4, 7.0, 6.6, 6.2, 5.8, 5.4, 5.0],
    [0, 0, 0, 0, 0, 0.3, 1.2, 3.0, 5.2, 7.6, 9.6, 11.0, 12.0, 12.6, 12.9, 12.7, 11.8, 10.8, 9.9, 9.6, 9.3, 8.9],
    [0, 0, 0, 0, 0, 0.3, 1.2, 3.0, 5.0, 6.6, 7.6, 8.2, 8.5, 8.6, 8.5, 8.2, 7.5, 7.1, 6.9, 6.7, 6.5, 6.4],
]

# ---------------- layout (pixel boxes in a 759 x 1668 canvas) ----------------
W, H = 759, 1668
fig = plt.figure(figsize=(W / 100, H / 100), dpi=100)


def px_axes(left, right, top, bottom):
    return fig.add_axes([left / W, 1 - bottom / H, (right - left) / W, (bottom - top) / H])


def panel(box, t, traces, xlim, ylim, yticks, yminor, with_time_axis):
    ax = px_axes(*box)
    for tr in traces:
        ax.plot(t, tr, color='black', lw=0.75, solid_joinstyle='round')
    ax.set_xlim(xlim)
    ax.set_ylim(ylim)
    for s in ['top', 'right']:
        ax.spines[s].set_visible(False)
    ax.spines['left'].set_linewidth(0.9)
    ax.spines['bottom'].set_linewidth(0.9)
    ax.set_yticks(yticks)
    ax.set_yticklabels([str(v) for v in yticks])
    ax.set_yticks(yminor, minor=True)
    ax.tick_params(axis='y', which='major', length=4, width=0.8, labelsize=11.5, pad=3)
    ax.tick_params(axis='y', which='minor', length=2, width=0.7)
    if with_time_axis:
        ax.set_xticks(x_ticks)
        ax.set_xticklabels(x_tick_labels)
        ax.set_xticks([-250, 250, 750], minor=True)
        ax.tick_params(axis='x', which='major', length=4, width=0.8, labelsize=11.5, pad=4)
        ax.tick_params(axis='x', which='minor', length=2, width=0.7)
    else:
        ax.spines['bottom'].set_visible(False)
        ax.tick_params(axis='x', which='both', bottom=False, labelbottom=False)
    return ax


def txt(x, y, s, **kw):
    fig.text(x / W, 1 - y / H, s, ha='center', va='center', **kw)


xlim1 = (-693, 1214)
ylim1 = (-1, 12.4)
minor1 = [2, 6, 10]
xlim2 = (-750, 1252)
ylim2_pass = (-1, 10.8)
ylim2_rec = (-1, 19)
minor2_pass = [2, 6, 10]
minor2_rec = [2.5, 7.5, 12.5, 17.5]

# pair 1, stationary passer row
panel((150, 417, 47, 198), time_pair1, p1_ss_passer, xlim1, ylim1, y_ticks_pair1, minor1, False)
panel((150, 417, 212, 363), time_pair1, p1_ss_receiver, xlim1, ylim1, y_ticks_pair1, minor1, True)
panel((454, 722, 47, 198), time_pair1, p1_sm_passer, xlim1, ylim1, y_ticks_pair1, minor1, False)
panel((455, 722, 212, 363), time_pair1, p1_sm_receiver, xlim1, ylim1, y_ticks_pair1, minor1, True)
# pair 1, moving passer row
panel((151, 417, 459, 611), time_pair1, p1_ms_passer, xlim1, ylim1, y_ticks_pair1, minor1, False)
panel((150, 417, 618, 770), time_pair1, p1_ms_receiver, xlim1, ylim1, y_ticks_pair1, minor1, True)
panel((456, 722, 459, 611), time_pair1, p1_mm_passer, xlim1, ylim1, y_ticks_pair1, minor1, False)
panel((455, 722, 618, 770), time_pair1, p1_mm_receiver, xlim1, ylim1, y_ticks_pair1, minor1, True)
# pair 2, stationary passer row
panel((143, 394, 898, 1045), time_pair2, p2_ss_passer, xlim2, ylim2_pass, y_ticks_pair2_passer, minor2_pass, False)
panel((143, 394, 1057, 1206), time_pair2, p2_ss_receiver, xlim2, ylim2_rec, y_ticks_pair2_receiver, minor2_rec, True)
panel((448, 700, 898, 1045), time_pair2, p2_sm_passer, xlim2, ylim2_pass, y_ticks_pair2_passer, minor2_pass, False)
panel((448, 700, 1057, 1206), time_pair2, p2_sm_receiver, xlim2, ylim2_rec, y_ticks_pair2_receiver, minor2_rec, True)
# pair 2, moving passer row
panel((143, 394, 1302, 1450), time_pair2, p2_ms_passer, xlim2, ylim2_pass, y_ticks_pair2_passer, minor2_pass, False)
panel((143, 394, 1462, 1611), time_pair2, p2_ms_receiver, xlim2, ylim2_rec, y_ticks_pair2_receiver, minor2_rec, True)
panel((448, 700, 1302, 1450), time_pair2, p2_mm_passer, xlim2, ylim2_pass, y_ticks_pair2_passer, minor2_pass, False)
panel((448, 700, 1462, 1611), time_pair2, p2_mm_receiver, xlim2, ylim2_rec, y_ticks_pair2_receiver, minor2_rec, True)

# labels
serif = ['Liberation Serif', 'DejaVu Serif']
txt(78, 19, 'Pair 1', family=serif, fontsize=20)
txt(43, 876, 'Pair 2', family=serif, fontsize=20)

txt(286, 15, conditions[0], fontsize=12.8)
txt(602, 17, conditions[1], fontsize=12.8)
txt(304, 442, conditions[2], fontsize=12.8)
txt(603, 440, conditions[3], fontsize=12.8)
txt(250, 876, conditions[0], fontsize=13.5)
txt(590, 877, conditions[1], fontsize=13.5)
txt(282, 1283, conditions[2], fontsize=13.5)
txt(588, 1285, conditions[3], fontsize=13.5)

for x, y, fs in [(283, 405, 15), (590, 405, 15), (283, 817, 15), (583, 814, 15),
                 (271, 1245, 14.7), (572, 1245, 14.7), (268, 1655, 14.7), (569, 1655, 14.7)]:
    txt(x, y, 'Time (ms)', fontsize=fs)

ylab = dict(fontsize=11.3, linespacing=1.0)
txt(76, 105, 'Passer Grip\nForce (N)', **ylab)
txt(73, 276, 'Receiver Grip\nForce (N)', **ylab)
txt(67, 517, 'Passer Grip\nForce (N)', **ylab)
txt(62, 682, 'Receiver Grip\nForce (N)', **ylab)
txt(62, 970, 'Passer  Grip\nForce (N)', **ylab)
txt(63, 1127, 'Receiver Grip\nForce (N)', **ylab)
txt(64, 1368, 'Passer Grip\nForce (N)', **ylab)
txt(63, 1532, 'Receiver Grip\nForce (N)', **ylab)

fig.savefig('out.png', dpi=100)
